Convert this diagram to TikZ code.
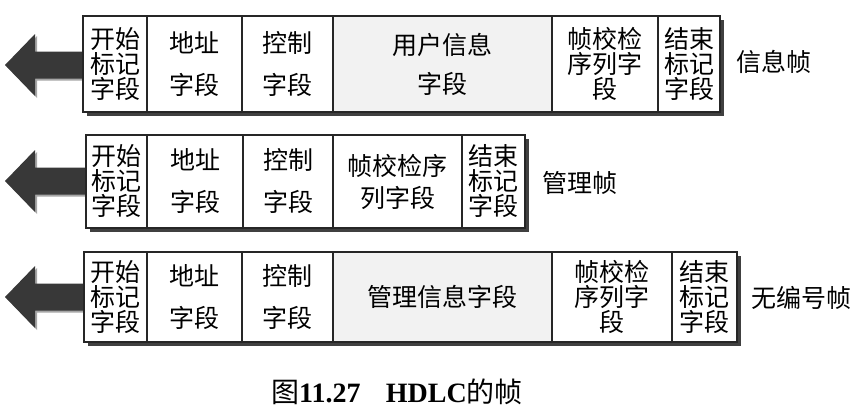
\documentclass[tikz,border=0pt]{standalone}
\usepackage{fontspec}
\setmainfont{Liberation Serif}
\newfontfamily\cjk{Noto Sans CJK SC}
\newcommand\hdlccellfont{\cjk\fontsize{25}{25}\selectfont\lineskiplimit=-20pt\relax}
\newcommand\hdlcarrow[2]{% #1 = centre y, #2 = box left x
  \fill[arrowshadow] (7,#1+2) -- (37,#1-29) -- (37,#1-11.5) -- (#2,#1-11.5) -- (#2,#1+15.5) -- (37,#1+15.5) -- (37,#1+33) -- cycle;
  \fill[arrowbody] (5,#1) -- (35,#1-31) -- (35,#1-13.5) -- (#2,#1-13.5) -- (#2,#1+13.5) -- (35,#1+13.5) -- (35,#1+31) -- cycle;}
\begin{document}
\begin{tikzpicture}[x=1pt,y=-1pt,
  cell/.style={draw=black!85, line width=1.1pt, fill=white, inner sep=0pt, align=center,
    font=\hdlccellfont},
  graycell/.style={cell, fill=black!5},
  boxshadow/.style={fill=black!75},
  arrowshadow/.style={fill=black!35},
  arrowbody/.style={fill=black!78},
  framelabel/.style={font=\cjk\fontsize{25}{26}\selectfont, anchor=west, inner sep=0pt},
  caption/.style={font=\fontsize{28}{30}\selectfont, inner sep=0pt}]
\useasboundingbox (0,0) rectangle (862,416);

% ---------- Row 1: 信息帧 ----------
\hdlcarrow{65}{83}
\fill[boxshadow] (87,20) rectangle (724,116);
\node[cell, minimum width=64pt, minimum height=96pt] (a1) at (115,64) {开始\\标记\\字段};
\node[cell, minimum width=95pt, minimum height=96pt] (a2) at (194.5,64) {地址\\[17pt]字段};
\node[cell, minimum width=91pt, minimum height=96pt] (a3) at (287.5,64) {控制\\[17pt]字段};
\node[graycell, minimum width=219pt, minimum height=96pt] (a4) at (442.5,64) {用户信息\\[14pt]字段};
\node[cell, minimum width=106pt, minimum height=96pt] (a5) at (605,64) {帧校检\\序列字\\段};
\node[cell, minimum width=62pt, minimum height=96pt] (a6) at (689,64) {结束\\标记\\字段};
\node[framelabel] (l1) at (736,62) {信息帧};

% ---------- Row 2: 管理帧 ----------
\hdlcarrow{181}{86}
\fill[boxshadow] (90,139) rectangle (529,232);
\node[cell, minimum width=61pt, minimum height=93pt] (b1) at (116.5,181.5) {开始\\标记\\字段};
\node[cell, minimum width=96pt, minimum height=93pt] (b2) at (195,181.5) {地址\\[17pt]字段};
\node[cell, minimum width=90pt, minimum height=93pt] (b3) at (288,181.5) {控制\\[17pt]字段};
\node[cell, minimum width=129pt, minimum height=93pt] (b4) at (397.5,181.5) {帧校检序\\[7pt]列字段};
\node[cell, minimum width=63pt, minimum height=93pt] (b5) at (493.5,181.5) {结束\\标记\\字段};
\node[framelabel] (l2) at (542,183) {管理帧};

% ---------- Row 3: 无编号帧 ----------
\hdlcarrow{297}{84}
\fill[boxshadow] (88,256) rectangle (741,346);
\node[cell, minimum width=63pt, minimum height=90pt] (c1) at (115.5,297) {开始\\标记\\字段};
\node[cell, minimum width=95pt, minimum height=90pt] (c2) at (194.5,297) {地址\\[17pt]字段};
\node[cell, minimum width=91pt, minimum height=90pt] (c3) at (287.5,297) {控制\\[17pt]字段};
\node[graycell, minimum width=219pt, minimum height=90pt] (c4) at (442.5,297) {管理信息字段};
\node[cell, minimum width=120pt, minimum height=90pt] (c5) at (612,297) {帧校检\\序列字\\段};
\node[cell, minimum width=65pt, minimum height=90pt] (c6) at (704.5,297) {结束\\标记\\字段};
\node[framelabel] (l3) at (751,298) {无编号帧};

% ---------- Caption ----------
\node[caption] (cap) at (397,392) {{\cjk 图}\textbf{11.27}\hspace{0.9em}\textbf{HDLC}{\cjk 的帧}};
\end{tikzpicture}
\end{document}
